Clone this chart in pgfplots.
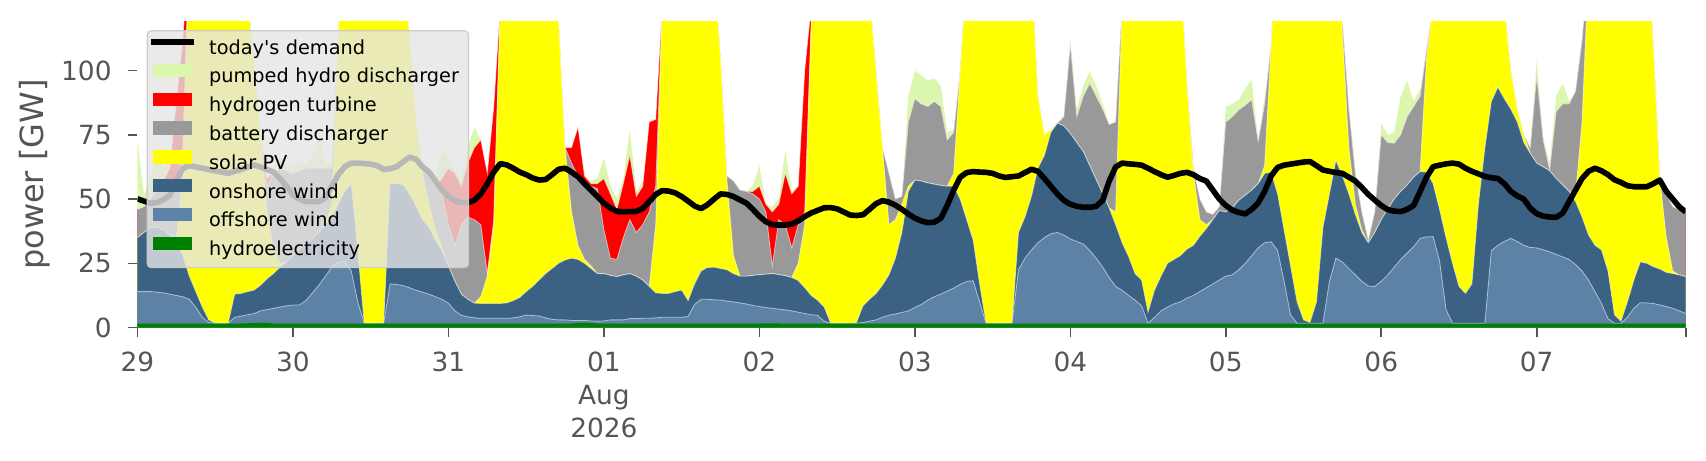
\documentclass[border=0pt]{standalone}
\usepackage{fontspec}
\setmainfont{DejaVu Sans}
\usepackage{pgfplots}
\usepackage{pgfplotstable}
\pgfplotsset{compat=1.18}
\definecolor{cPHS}{RGB}{219,246,173}
\definecolor{cH2}{RGB}{255,0,0}
\definecolor{cBat}{RGB}{153,153,153}
\definecolor{cSol}{RGB}{255,255,0}
\definecolor{cOn}{RGB}{59,97,131}
\definecolor{cOff}{RGB}{92,130,165}
\definecolor{cHyd}{RGB}{0,128,0}
\definecolor{tickgray}{RGB}{85,85,85}
\definecolor{legfill}{RGB}{229,229,229}
\definecolor{legedge}{RGB}{204,204,204}
\pgfplotsset{
  patchlegend/.style={legend image code/.code={\fill[##1, sharp corners, fill opacity=1] (0pt,0.3pt) rectangle (19.2pt,7pt);}},
  linelegend/.style={legend image code/.code={\draw[##1, sharp corners, draw opacity=1] (-1.3pt,3.65pt) -- (20.35pt,3.65pt);}},
  seam/.style={forget plot, draw=white, line width=0.4pt, draw opacity=0.55},
}
% cumulative tops of the stacked layers (GW), hourly, t = hours since 29 Jul 00:00
\pgfplotstableread{
t hyd off on sol bat h2 phs dem
0 1.5 14 35 35 46 46 72 50.1
1 1.5 14 37 37 47 47 52 49.2
2 1.5 14 39 39 50 50 57 48.4
3 1.5 13.8 39 39 53 54 70 48.6
4 1.5 13.5 38 38 55 57 62 49.8
5 1.5 13 36 36 56 62 64 51.5
6 1.5 12.5 33 35 54 88 88 57
7 1.5 12 28 60 70 112 112 62
8 1.5 11 20 150 150 150 150 63
9 1.5 8 14 180 180 180 180 62.5
10 1.5 4 8 190 190 190 190 62
11 1.5 2 3 200 200 200 200 61.5
12 1.5 1.7 1.7 200 200 200 200 61
13 1.5 1.7 1.7 200 200 200 200 60.5
14 1.5 1.7 1.7 200 200 200 200 60
15 1.5 4 13 190 190 190 190 60.8
16 1.6 4.5 13.3 160 160 160 160 61.5
17 1.7 5 14 128 128 128 128 62.5
18 1.8 5.5 14.6 103 103 103 103 63.2
19 1.9 6.5 16.5 75 75 75 75 62.5
20 1.8 7 19 45 55 58 58 61.5
21 1.6 7.5 21 30 60 60 62 60.5
22 1.5 8 23.5 25 62 62 66 58
23 1.5 8.5 25.5 25.5 61 61 63 55
24 1.5 8.8 28 28 60 60 63 51.5
25 1.5 8.8 30.5 30.5 61 61 64 50
26 1.5 10.5 32.5 32.5 62 62 64 49
27 1.5 13.5 34.5 34.5 62 62 66 49
28 1.5 16.5 37 37 62 62 74 49
29 1.5 20 40 40 62 62 64 50.5
30 1.5 23.5 43 48 62 62 63 55
31 1.5 25.5 48 115 115 115 115 59.5
32 1.5 25.7 53 160 160 160 160 62.6
33 1.5 22 56 190 190 190 190 64
34 1.5 10 30 200 200 200 200 64
35 1.5 1.7 1.7 200 200 200 200 63.8
36 1.5 1.7 1.7 200 200 200 200 63.6
37 1.5 1.7 1.7 200 200 200 200 63
38 1.5 1.7 1.7 200 200 200 200 61.5
39 1.5 17 56 200 200 200 200 61.8
40 1.5 16.8 56 190 190 190 190 62.6
41 1.5 16.3 55.5 150 150 150 150 64.5
42 1.5 15.5 52 112 112 112 112 66.3
43 1.5 14.5 47 80 80 80 80 65.5
44 1.5 13.8 42 60 62 62 62 62.6
45 1.5 13 39 48 60 60 60 60.5
46 1.5 12 34 38 55 55 56 57
47 1.5 11 30 31 52 58 70 53.5
48 1.5 9.5 24 24 40 62 66 51
49 1.5 6.5 18 18 32 60 61 49.3
50 1.5 4.8 13 13 40 55 57 48.6
51 1.5 4.2 11 11 43 64 70 48.6
52 1.5 3.8 9.5 9.5 42 70 78 49.6
53 1.5 3.6 9.4 12 40 73 73 52
54 1.5 3.6 9.4 20 21 60 60 56
55 1.5 3.6 9.4 40 42 86 86 60.5
56 1.5 3.6 9.4 125 125 125 125 63.8
57 1.5 3.6 9.6 165 165 165 165 63.3
58 1.5 3.8 10.5 190 190 190 190 62
59 1.5 4.2 11.7 210 210 210 210 60.5
60 1.5 4.9 14 220 220 220 220 59.5
61 1.5 4.7 16 220 220 220 220 58.2
62 1.5 4.5 18.5 220 220 220 220 57.4
63 1.5 3.8 21 200 200 200 200 57.6
64 1.5 3.2 23 160 160 160 160 59.5
65 1.5 3 25 119 119 119 119 61.6
66 1.5 3 26.3 70 70 70 70 62
67 1.6 2.8 27 45 64 70 70 60.5
68 1.8 2.8 26.5 32 59 78 78 58.7
69 1.9 2.8 25 26.5 57 59 59 56
70 1.8 2.6 23 24 55 56 57 53.5
71 1.6 2.5 21 21 54 56 58 51
72 1.5 2.6 21 21 38 58 66 48.4
73 1.5 3 20.3 20.3 27 52 55 46.5
74 1.5 3 19.8 19.8 26.5 46 50 45.2
75 1.5 3 20.5 20.5 35 56 58 45.1
76 1.5 3.5 21 21 42 67 77 45.1
77 1.5 3.5 20 20 37 51 53 45.2
78 1.5 3.6 18.5 18.5 40 55 57 46.4
79 1.5 3.6 16 16 45 80 80 49
80 1.5 3.8 13.5 40 55 81 81 51.8
81 1.5 4 13.3 125 125 125 125 53.3
82 1.5 4 13.3 175 175 175 175 53.1
83 1.5 4 14 200 200 200 200 52.4
84 1.5 4 14.6 210 210 210 210 51
85 1.5 4.3 10.5 210 210 210 210 49.2
86 1.5 9 17 210 210 210 210 47.3
87 1.5 11 22 200 200 200 200 46.3
88 1.5 11 23.4 175 175 175 175 47.8
89 1.5 10.8 23.5 140 140 140 140 50
90 1.5 10.7 23 105 105 105 105 52
91 1.5 10.3 22.5 57 59 59 59 51.8
92 1.5 10 21 28 57 57 57 51
93 1.5 9.6 20 20 53.5 53.5 53.5 49.7
94 1.5 9.2 20 20 53 53 53 48.4
95 1.5 8.6 20.3 20.3 52 53 55 46
96 1.6 8.2 20.6 20.6 50 55 63 43.3
97 1.6 7.8 20.8 20.8 45 48 48 41.2
98 1.6 7.5 21 21 24 45 47 40
99 1.6 7.2 20.6 20.6 42 48 50 39.9
100 1.5 6.9 20.2 20.2 40 60 69 39.9
101 1.5 6.5 19.5 19.5 31 52 53 40.3
102 1.5 6 18.3 25 40 55 55 41.5
103 1.5 5.5 15.5 40 45 100 100 43.2
104 1.5 5 12.5 118 118 125 125 44.6
105 1.5 4.8 10.6 160 160 160 160 45.6
106 1.5 2.5 8 200 200 200 200 46.6
107 1.5 1.7 1.7 220 220 220 220 46.7
108 1.5 1.7 1.7 220 220 220 220 46.2
109 1.5 1.7 1.7 220 220 220 220 45
110 1.5 1.7 1.7 220 220 220 220 43.8
111 1.5 1.7 2 200 200 200 200 43.6
112 1.5 2 8.5 170 170 170 170 43.9
113 1.5 2.5 11 130 130 130 130 46
114 1.5 3 13.2 100 100 100 100 48.2
115 1.5 4 16.5 70 70 70 70 49.4
116 1.5 4.8 20.5 40 60 60 60 48.8
117 1.5 5.3 27 42 50 50 50 47.6
118 1.5 5.9 37 48 51 51 51 46
119 1.5 6.5 53 55 80 80 90 44.2
120 1.5 7.8 57.4 57.4 89 89 100 42.6
121 1.5 9 57 57 87 87 98 41.5
122 1.5 10.7 56.3 56.3 86 86 96 40.8
123 1.5 12 55.8 55.8 88 88 97 41
124 1.5 13 55.3 55.3 86 86 94 42.5
125 1.5 14.2 55 55 73 73 76 47.5
126 1.5 15.4 55 60 76 76 77 53.5
127 1.5 16.8 50 100 100 100 100 58.5
128 1.5 18 42 140 140 140 140 60.3
129 1.5 18.2 34 180 180 180 180 60.7
130 1.5 10 17 200 200 200 200 60.5
131 1.5 1.7 1.7 220 220 220 220 60.4
132 1.5 1.7 1.7 220 220 220 220 60
133 1.5 1.7 1.7 220 220 220 220 59
134 1.5 1.7 1.7 220 220 220 220 58.4
135 1.5 1.7 1.7 220 220 220 220 58.7
136 1.5 22.5 37 220 220 220 220 59
137 1.5 27 43 200 200 200 200 60.3
138 1.5 30.2 51 140 140 140 140 61.6
139 1.5 33 62 90 90 90 90 60.8
140 1.5 35 67 75 75 75 75 58
141 1.5 36.5 76 77 77 77 77 55
142 1.5 37 79.5 79.5 79.5 79.5 79.5 52
143 1.5 36 78.5 78.5 82 82 82 49.5
144 1.5 34.5 75.5 75.5 110 110 112 48
145 1.5 33.5 72 72 82 82 85 47.2
146 1.5 32.5 68.5 68.5 90 90 94 46.8
147 1.5 30 63 63 95 95 99.6 46.8
148 1.5 27 57.5 57.5 90 90 94 47.2
149 1.5 23.5 52 52 85 85 87 49.5
150 1.5 19.5 46.5 46.5 79 79 79 57
151 1.5 16 40 45 80 80 80 62.5
152 1.5 14.5 33 125 125 125 125 64
153 1.5 12.5 27.6 170 170 170 170 63.7
154 1.5 10.7 21 200 200 200 200 63.5
155 1.5 8.5 18.5 210 210 210 210 63.2
156 1.5 1.7 6 220 220 220 220 62
157 1.5 4 14.6 220 220 220 220 60.7
158 1.5 6.5 20 220 220 220 220 59.5
159 1.5 8 25 210 210 210 210 58.5
160 1.5 9.2 26.5 190 190 190 190 59.2
161 1.5 10 28 140 140 140 140 60
162 1.5 11.5 30.5 95 95 95 95 60.4
163 1.5 12.5 32 60 62 62 62 59.5
164 1.5 14 35.5 42 50 50 50 58
165 1.5 15.5 38.5 40 45 45 45 57
166 1.5 17 42 42 44 44 44 53.5
167 1.5 18.5 45.5 45.5 47 47 47 50
168 1.5 20 45 45 80 80 86 47.5
169 1.5 20.5 46.5 46.5 82 82 87 45.7
170 1.5 22.5 49.5 49.5 84.7 84.7 88.6 44.8
171 1.5 25 51.5 51.5 86.5 86.5 93 44.2
172 1.5 28 53.5 53.5 88.6 88.6 96.3 46
173 1.5 31 56 56 72.4 72.4 73 48.5
174 1.5 33 60 63 87 87 90 53
175 1.5 33.4 60.5 110 110 110 110 59
176 1.5 30 52 160 160 160 160 62.3
177 1.5 18 38 200 200 200 200 63.2
178 1.5 5 24 210 210 210 210 63.6
179 1.5 1.7 10 220 220 220 220 64
180 1.5 1.7 3 220 220 220 220 64.4
181 1.5 1.7 2 220 220 220 220 64.6
182 1.5 1.7 10 220 220 220 220 63
183 1.5 1.7 39 220 220 220 220 61.3
184 1.5 18 52 200 200 200 200 60.8
185 1.5 27 65 170 170 170 170 60.3
186 1.5 25.5 59 115 119 119 119 60
187 1.5 23 52 70 85 85 85 58.5
188 1.5 20.5 44 48 60 60 60 57
189 1.5 18 37 38 45 45 45 54.5
190 1.5 16.2 33 33 34 34 34 51.8
191 1.5 16 37 37 45 45 45 49.6
192 1.5 18 42 42 75 75 79.5 47.5
193 1.5 20.5 46 46 72 72 75 45.9
194 1.5 23.5 50 50 71.7 71.7 76 45.3
195 1.5 26.5 53 53 75 75 90 45.1
196 1.5 29 55.5 55.5 82 82 96 46
197 1.5 31.5 58.5 58.5 86 86 88 47.5
198 1.5 34.7 60.7 60.7 90 90 93 53
199 1.5 35.3 60.5 105 108 108 108 58.5
200 1.5 35.4 56 125 125 125 125 62.6
201 1.5 26 46 170 170 170 170 63.2
202 1.5 7 35 200 200 200 200 63.7
203 1.5 1.7 25 210 210 210 210 64
204 1.5 1.7 16 220 220 220 220 63.6
205 1.5 1.7 13.3 220 220 220 220 62
206 1.5 1.7 17 220 220 220 220 60.8
207 1.5 1.7 48 220 220 220 220 59.8
208 1.5 1.7 70 220 220 220 220 58.8
209 1.5 30 88 210 210 210 210 58.3
210 1.5 32 93.5 180 180 180 180 58
211 1.5 33.5 89 125 125 125 125 56
212 1.5 34.7 85 100 100 100 100 53
213 1.5 33.5 80 85 85 85 85 51.2
214 1.5 32 72 75 75 75 75 50
215 1.5 31.2 67.8 67.8 70 70 70 46.5
216 1.5 31 64 64 98 98 104 44.3
217 1.5 30.3 62.5 62.5 73 73 74 43.4
218 1.5 29.5 61 61 61.3 61.3 64 43
219 1.5 28.5 58 58 84 84 90 42.9
220 1.5 27.5 55.5 55.5 87 87 95 44.5
221 1.5 26.5 53 53 87 87 88 49
222 1.5 24.5 49 52 92 92 92 53.5
223 1.5 22 43 80 112 112 112 58
224 1.5 18.5 36 140 140 140 140 60.8
225 1.5 14 32 180 180 180 180 62
226 1.5 9.4 30.2 200 200 200 200 61
227 1.5 3.5 22 210 210 210 210 59.5
228 1.5 1.7 5 220 220 220 220 57.5
229 1.5 1.7 2.5 220 220 220 220 56.5
230 1.5 4 10 220 220 220 220 55.2
231 1.5 7.5 18.5 210 210 210 210 54.8
232 1.5 9.7 25.6 190 190 190 190 54.8
233 1.5 9.6 25 150 150 150 150 54.8
234 1.5 9.4 23.7 110 110 110 110 56
235 1.5 8.8 22.8 58 59 59 59 57.4
236 1.5 8.2 21.5 35 52 52 52 53
237 1.5 7.5 21 22 47 47 47 50
238 1.5 6.5 20.5 20.5 46 46 46 47
239 1.5 5.5 19.8 19.8 45 45 45 45
}\gendata

\begin{document}
\begin{tikzpicture}
\begin{axis}[
  scale only axis, width=774.1pt, height=152.95pt,
  xmin=0, xmax=239, ymin=0, ymax=119,
  axis line style={draw=none},
  tick align=outside, tick pos=left,
  major tick length=4.5pt,
  every tick/.style={tickgray, line width=0.8pt},
  /pgf/number format/assume math mode=true,
  xtick={0,24,...,216},
  xticklabels={29,30,31,{01\\Aug\\2026},02,03,04,05,06,07},
  extra x ticks={239}, extra x tick labels={},
  ytick={0,25,50,75,100}, yticklabels={0,25,50,75,100},
  ticklabel style={font=\fontsize{13.2}{16.6}\selectfont, text=tickgray},
  xticklabel style={align=center, anchor=north, inner sep=0pt, yshift=-7.3pt},
  yticklabel style={anchor=east, inner sep=0pt, xshift=-8.25pt},
  ylabel={power [GW]},
  ylabel style={at={(axis description cs:-0.0662,0.5)}, anchor=center, font=\fontsize{16}{19}\selectfont, text=tickgray},
  legend cell align=left,
  legend style={
    at={(0.00594,0.9725)}, anchor=north west,
    fill=legfill, fill opacity=0.8, draw=legedge, draw opacity=1, text opacity=1,
    rounded corners=2pt, line width=0.6pt,
    inner xsep=0.3pt, inner ysep=4pt,
    row sep=2.9pt, column sep=6pt,
    font=\fontsize{9.65}{11}\selectfont,
    nodes={inner sep=0pt, text height=7pt, text depth=2pt, text width=129.4pt, text=black},
  },
]
\addlegendimage{black, line width=3pt, linelegend}
\addlegendentry{today\textquotesingle s demand}
\addplot[fill=cPHS, draw=none, patchlegend] table[x=t, y=phs] {\gendata} \closedcycle;
\addlegendentry{pumped hydro discharger}
\addplot[fill=cH2, draw=none, patchlegend] table[x=t, y=h2] {\gendata} \closedcycle;
\addlegendentry{hydrogen turbine}
\addplot[seam] table[x=t, y=h2] {\gendata};
\addplot[fill=cBat, draw=none, patchlegend] table[x=t, y=bat] {\gendata} \closedcycle;
\addlegendentry{battery discharger}
\addplot[seam] table[x=t, y=bat] {\gendata};
\addplot[fill=cSol, draw=none, patchlegend] table[x=t, y=sol] {\gendata} \closedcycle;
\addlegendentry{solar PV}
\addplot[seam] table[x=t, y=sol] {\gendata};
\addplot[fill=cOn, draw=none, patchlegend] table[x=t, y=on] {\gendata} \closedcycle;
\addlegendentry{onshore wind}
\addplot[seam] table[x=t, y=on] {\gendata};
\addplot[fill=cOff, draw=none, patchlegend] table[x=t, y=off] {\gendata} \closedcycle;
\addlegendentry{offshore wind}
\addplot[seam] table[x=t, y=off] {\gendata};
\addplot[fill=cHyd, draw=none, patchlegend] table[x=t, y=hyd] {\gendata} \closedcycle;
\addlegendentry{hydroelectricity}
\addplot[black, line width=2.8pt, line join=round, forget plot] table[x=t, y=dem] {\gendata};
\end{axis}
\pgfresetboundingbox
\path[use as bounding box] ([xshift=-68.75pt,yshift=-66.2pt]current axis.south west) rectangle ([xshift=10.15pt,yshift=10.85pt]current axis.north east);
\end{tikzpicture}
\end{document}
